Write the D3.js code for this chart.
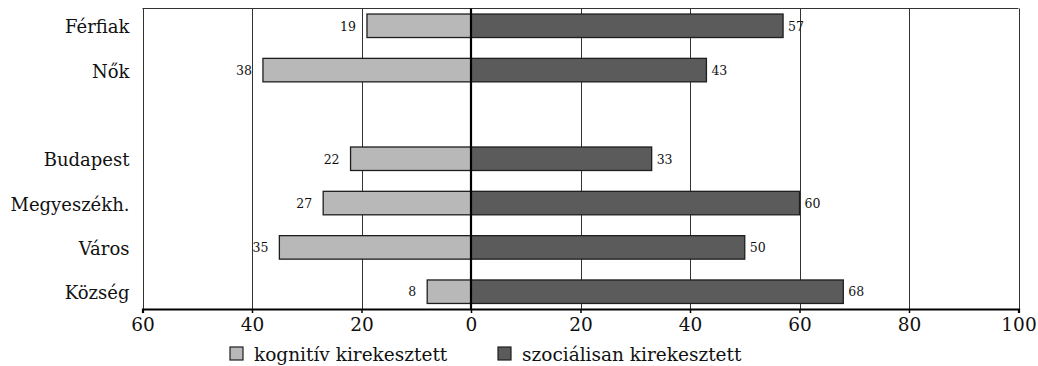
<!DOCTYPE html>
<html>
<head>
<meta charset="utf-8">
<script src="https://cdn.jsdelivr.net/npm/d3@7"></script>
<style>
  html, body { margin: 0; padding: 0; background: #fff; }
  svg { display: block; font-family: "DejaVu Serif", serif; }
</style>
</head>
<body>
<svg id="chart" width="1038" height="366"></svg>
<script>
// Rows of the chart; the empty string is a spacer row between the two groups
const categories = ["Férfiak", "Nők", "", "Budapest", "Megyeszékh.", "Város", "Község"];
// Cognitively excluded share (drawn to the left of zero)
const kognitiv = [19, 38, null, 22, 27, 35, 8];
// Socially excluded share (drawn to the right of zero)
const szocialis = [57, 43, null, 33, 60, 50, 68];
const tickValues = [-60, -40, -20, 0, 20, 40, 60, 80, 100];
const seriesNames = ["kognitív kirekesztett", "szociálisan kirekesztett"];

const colors = { kog: "#b8b8b8", szoc: "#5b5b5b", stroke: "#1e1e1e", grid: "#333" };

const svg = d3.select("#chart");
const plotLeft = 142.5, plotRight = 1018.5, plotTop = 8.5, plotBottom = 309;

const x = d3.scaleLinear().domain([-60, 100]).range([plotLeft, plotRight]);
const y = d3.scaleBand().domain(d3.range(categories.length))
  .range([plotTop, plotBottom]).paddingInner(0.47).paddingOuter(0.125);

// Frame: top edge
svg.append("line").attr("x1", plotLeft).attr("x2", plotRight).attr("y1", plotTop).attr("y2", plotTop)
  .attr("stroke", colors.grid).attr("stroke-width", 1);

// Vertical grid lines at each tick
svg.append("g").selectAll("line").data(tickValues.filter(d => d !== 0)).join("line")
  .attr("x1", d => Math.round(x(d)) + 0.5).attr("x2", d => Math.round(x(d)) + 0.5)
  .attr("y1", plotTop).attr("y2", plotBottom)
  .attr("stroke", colors.grid).attr("stroke-width", 1);

const rows = categories.map((c, i) => ({ c, i, k: kognitiv[i], s: szocialis[i] }))
  .filter(d => d.k != null);

// Negative side bars
svg.append("g").selectAll("rect").data(rows).join("rect")
  .attr("x", d => x(-d.k)).attr("width", d => x(0) - x(-d.k))
  .attr("y", d => y(d.i)).attr("height", y.bandwidth())
  .attr("fill", colors.kog).attr("stroke", colors.stroke).attr("stroke-width", 1.3);

// Positive side bars
svg.append("g").selectAll("rect").data(rows).join("rect")
  .attr("x", x(0)).attr("width", d => x(d.s) - x(0))
  .attr("y", d => y(d.i)).attr("height", y.bandwidth())
  .attr("fill", colors.szoc).attr("stroke", colors.stroke).attr("stroke-width", 1.3);

// Zero line
svg.append("line").attr("x1", x(0)).attr("x2", x(0)).attr("y1", plotTop).attr("y2", plotBottom)
  .attr("stroke", "#000").attr("stroke-width", 2.2);

// Value labels
svg.append("g").selectAll("text").data(rows).join("text")
  .attr("x", d => x(-d.k) - 11).attr("y", d => y(d.i) + y.bandwidth() / 2)
  .attr("dy", "0.38em").attr("text-anchor", "end")
  .attr("font-size", 12.5).attr("fill", "#111").text(d => d.k);
svg.append("g").selectAll("text").data(rows).join("text")
  .attr("x", d => x(d.s) + 5).attr("y", d => y(d.i) + y.bandwidth() / 2)
  .attr("dy", "0.38em").attr("text-anchor", "start")
  .attr("font-size", 12.5).attr("fill", "#111").text(d => d.s);

// Category labels
svg.append("g").selectAll("text").data(categories.map((c, i) => ({ c, i })).filter(d => d.c))
  .join("text")
  .attr("x", plotLeft - 13).attr("y", d => y(d.i) + y.bandwidth() / 2)
  .attr("dy", "0.42em").attr("text-anchor", "end")
  .attr("font-size", 18).attr("fill", "#111").text(d => d.c);

// Bottom axis
const axis = d3.axisBottom(x).tickValues(tickValues).tickSize(4).tickPadding(5)
  .tickFormat(d => Math.abs(d));
const ag = svg.append("g").attr("transform", `translate(0,${plotBottom})`).call(axis);
ag.select(".domain").attr("stroke", "#000").attr("stroke-width", 2.2);
ag.selectAll(".tick line").attr("stroke", "#000").attr("stroke-width", 1.5);
ag.selectAll(".tick text").attr("font-size", 18.5).attr("fill", "#111")
  .attr("font-family", "DejaVu Serif, serif");

// Legend
const legendItems = [
  { name: seriesNames[0], color: colors.kog, x: 230 },
  { name: seriesNames[1], color: colors.szoc, x: 498 }
];
const lg = svg.append("g").selectAll("g").data(legendItems).join("g")
  .attr("transform", d => `translate(${d.x},347)`);
lg.append("rect").attr("width", 13).attr("height", 13)
  .attr("fill", d => d.color).attr("stroke", colors.stroke).attr("stroke-width", 1.2);
lg.append("text").attr("x", 24).attr("y", 7).attr("dy", "0.38em")
  .attr("font-size", 18.5).attr("fill", "#111").text(d => d.name);
</script>
</body>
</html>
